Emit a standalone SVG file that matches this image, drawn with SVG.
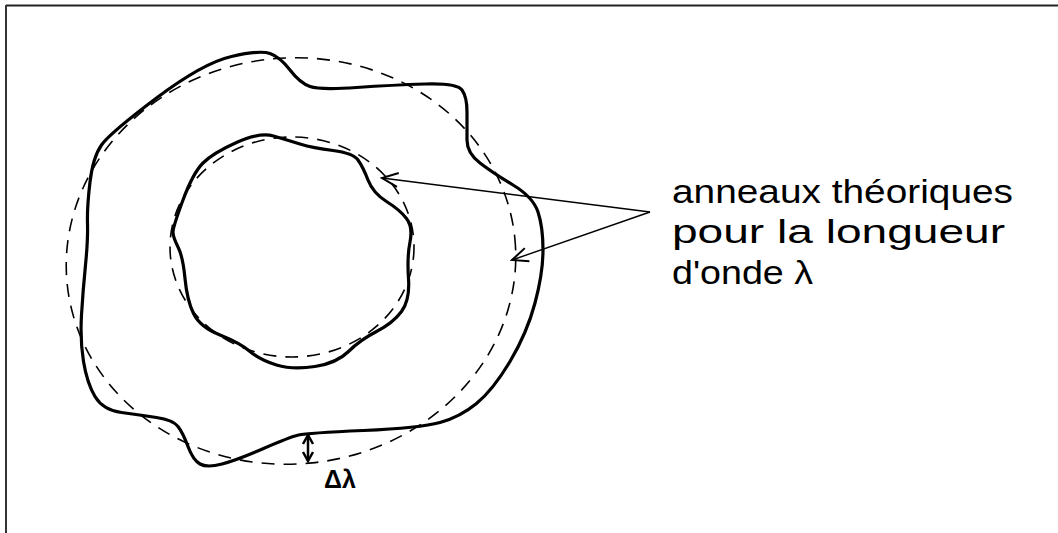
<svg xmlns="http://www.w3.org/2000/svg" width="1058" height="533" viewBox="0 0 1058 533">
<style>
.solid{fill:none;stroke:#000;stroke-width:3.2;stroke-linejoin:round;stroke-linecap:round}
.dash{fill:none;stroke:#000;stroke-width:1.6;stroke-dasharray:13 9}
.lead{fill:none;stroke:#000;stroke-width:1.4}
.lbl{font-family:"Liberation Sans",Arial,sans-serif;font-size:34px;fill:#000}
</style>
<defs>
<marker id="open" viewBox="-18 -9 20 18" markerWidth="20" markerHeight="18" refX="0" refY="0" orient="auto-start-reverse" markerUnits="userSpaceOnUse">
<path d="M-16,-7 L0,0 L-16,7" fill="none" stroke="#000" stroke-width="2"/>
</marker>
<marker id="solidhead" viewBox="-12 -7 14 14" markerWidth="14" markerHeight="14" refX="0" refY="0" orient="auto-start-reverse" markerUnits="userSpaceOnUse">
<path d="M-9,-5 L0,0 L-9,5" fill="none" stroke="#000" stroke-width="2.5"/>
</marker>
</defs>
<rect width="1058" height="533" fill="#fff"/>
<g id="frame">
<line x1="6" y1="5.5" x2="1058" y2="5.5" stroke="#222" stroke-width="2"/>
<line x1="6" y1="5" x2="6" y2="533" stroke="#333" stroke-width="2"/>
</g>
<g id="outer-ring">
<ellipse class="dash" cx="291" cy="261" rx="225" ry="203" transform="rotate(-6 291 261)"/>
<path class="solid" d="M 87.5,223.5 Q 87,207 90,182 Q 93,157 101.5,145 Q 110,133 156.5,98 Q 203,63 231.5,56.5 Q 260,50 270,53.5 Q 280,57 290,70 Q 300,83 310,86.5 Q 320,90 356.5,87.5 Q 393,85 425,84 Q 457,83 462,90 Q 467,97 467,112 Q 467,127 467,140 Q 467,153 480,163 Q 493,173 513,185 Q 533,197 538,212 Q 543,227 543,250 Q 543,273 535,303 Q 527,333 510,361.5 Q 493,390 476.5,403.5 Q 460,417 440,422.5 Q 420,428 363.5,430.5 Q 307,433 298.5,435 Q 290,437 263.5,448.5 Q 237,460 222,464 Q 207,468 200,464 Q 193,460 188,446.5 Q 183,433 178,426.5 Q 173,420 156.5,417.5 Q 140,415 121.5,412.5 Q 103,410 95,396.5 Q 87,383 83.5,361.5 Q 80,340 81.5,315 Q 83,290 85.5,265 Q 88,240 87.5,223.5 Z"/>
</g>
<g id="inner-ring">
<ellipse class="dash" cx="292" cy="247" rx="122" ry="110"/>
<path class="solid" d="M 173,232 Q 173,227 183,200 Q 193,173 203,163 Q 213,153 236.5,142.5 Q 260,132 273.5,136 Q 287,140 300,144 Q 313,148 333,150.5 Q 353,153 358,160 Q 363,167 368,180 Q 373,193 386.5,201.5 Q 400,210 406.5,218.5 Q 413,227 410,242 Q 407,257 408.5,278.5 Q 410,300 401.5,311.5 Q 393,323 376.5,331.5 Q 360,340 348.5,351.5 Q 337,363 315,366.5 Q 293,370 276.5,365 Q 260,360 250,351.5 Q 240,343 220,335 Q 200,327 193.5,313.5 Q 187,300 185,278.5 Q 183,257 178,247 Q 173,237 173,232 Z"/>
</g>
<g id="label">
<text class="lbl" x="672" y="203" textLength="341" lengthAdjust="spacingAndGlyphs">anneaux théoriques</text>
<text class="lbl" x="672" y="243" textLength="333" lengthAdjust="spacingAndGlyphs">pour la longueur</text>
<text class="lbl" x="672" y="284" textLength="141" lengthAdjust="spacingAndGlyphs">d'onde λ</text>
</g>
<g id="delta-label">
<text x="324" y="488" font-family="Liberation Sans,Arial,sans-serif" font-size="25" font-weight="bold">Δλ</text>
</g>
<g id="connectors">
<line class="lead" x1="382" y1="178" x2="650" y2="212" marker-start="url(#open)"/>
<line class="lead" x1="512" y1="260" x2="650" y2="212" marker-start="url(#open)"/>
<line x1="308" y1="435" x2="308" y2="461" stroke="#000" stroke-width="2.5" marker-start="url(#solidhead)" marker-end="url(#solidhead)"/>
</g>
</svg>
